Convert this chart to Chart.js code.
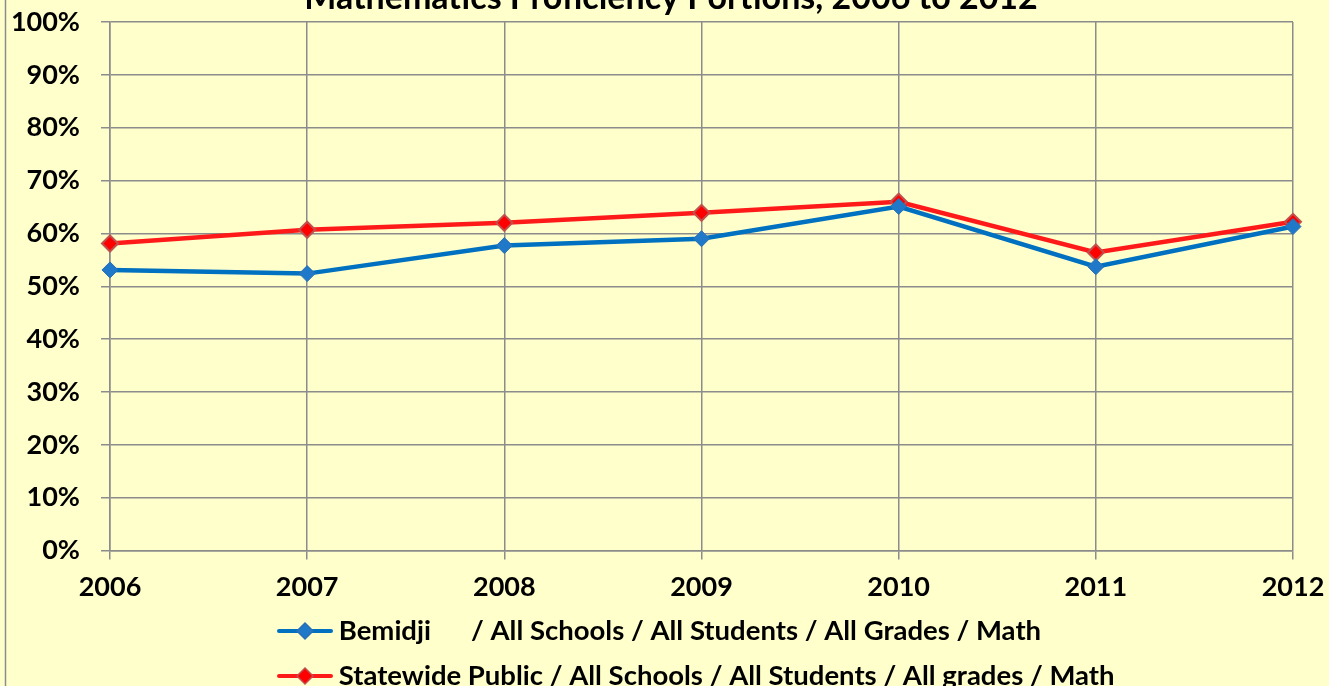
<!DOCTYPE html>
<html>
<head>
<meta charset="utf-8">
<script src="https://cdn.jsdelivr.net/npm/chart.js@4.4.1/dist/chart.umd.min.js"></script>
<style>
  html, body { margin: 0; padding: 0; background: #ffffcc; overflow: hidden; }
  #wrap { width: 1329px; height: 686px; }
</style>
</head>
<body>
<div id="wrap"><canvas id="myChart" width="1329" height="686"></canvas></div>
<script>
const years = ['2006', '2007', '2008', '2009', '2010', '2011', '2012'];
const bemidji = [53.1, 52.4, 57.7, 59.0, 65.1, 53.7, 61.3];
const statewide = [58.1, 60.7, 62.0, 63.9, 66.0, 56.4, 62.2];
const bemidjiLabel = 'Bemidji      / All Schools / All Students / All Grades / Math';
const statewideLabel = 'Statewide Public / All Schools / All Students / All grades / Math';
const titleText = 'Mathematics Proficiency Portions, 2006 to 2012';

const FONT = 'Lato, "Open Sans", sans-serif';
const LEG_FONT = 27.5;
const LEG_PAD = 17.5;

// little line+diamond pictures for the legend
function legendIcon(lineColor, fill, border) {
  const c = document.createElement('canvas');
  c.width = 56; c.height = 20;
  const g = c.getContext('2d');
  g.strokeStyle = lineColor;
  g.lineWidth = 4;
  g.lineCap = 'round';
  g.beginPath(); g.moveTo(2, 10); g.lineTo(54, 10); g.stroke();
  g.fillStyle = fill;
  g.strokeStyle = border;
  g.lineWidth = 1.5;
  g.beginPath();
  g.moveTo(28, 2); g.lineTo(36, 10); g.lineTo(28, 18); g.lineTo(20, 10); g.closePath();
  g.fill(); g.stroke();
  return c;
}
const blueIcon = legendIcon('#0070c0', '#1f78c8', '#2a6fb5');
const redIcon = legendIcon('#ff1a1a', '#ff0000', '#c0504d');

const bgPlugin = {
  id: 'bg',
  beforeDraw(chart) {
    const ctx = chart.ctx;
    ctx.save();
    ctx.fillStyle = '#ffffcc';
    ctx.fillRect(0, 0, chart.width, chart.height);
    ctx.strokeStyle = '#8c8c8c';
    ctx.lineWidth = 1.5;
    ctx.beginPath(); ctx.moveTo(5.5, 0); ctx.lineTo(5.5, chart.height); ctx.stroke();
    ctx.restore();
  },
  afterLayout(chart) {
    // both legend rows start at the same left edge, under the plot
    const lg = chart.legend;
    lg.left = 285 - LEG_PAD;
    lg.top = 631 - LEG_PAD - LEG_FONT / 2;
  },
  afterDraw(chart) {
    const ctx = chart.ctx;
    ctx.save();
    ctx.fillStyle = '#000';
    ctx.font = 'bold 34px ' + FONT;
    ctx.textAlign = 'center';
    ctx.textBaseline = 'alphabetic';
    ctx.fillText(titleText, 671, 9);
    ctx.restore();
  }
};

const ctx = document.getElementById('myChart');
new Chart(ctx, {
  type: 'line',
  data: {
    labels: years,
    datasets: [{
      label: bemidjiLabel,
      data: bemidji,
      borderColor: '#0070c0',
      borderWidth: 4.5,
      pointStyle: 'rectRot',
      pointRadius: 8,
      pointBackgroundColor: '#1f78c8',
      pointBorderColor: '#2a6fb5',
      pointBorderWidth: 1,
      tension: 0
    }, {
      label: statewideLabel,
      data: statewide,
      borderColor: '#ff1a1a',
      borderWidth: 4.5,
      pointStyle: 'rectRot',
      pointRadius: 8,
      pointBackgroundColor: '#ff0000',
      pointBorderColor: '#c0504d',
      pointBorderWidth: 2,
      tension: 0
    }]
  },
  options: {
    responsive: false,
    animation: false,
    layout: { padding: { top: 22, right: 36, left: 0, bottom: -28 } },
    scales: {
      x: {
        offset: false,
        grid: { color: '#8c8c8c', lineWidth: 1.5, tickLength: 9, tickColor: '#8c8c8c' },
        border: { color: '#8c8c8c', width: 1.5 },
        ticks: { color: '#000', font: { family: FONT, size: 27, weight: 'bold' }, padding: 11, maxRotation: 0 },
        afterFit(s) { s.paddingLeft = 0; s.paddingRight = 0; }
      },
      y: {
        min: 0,
        max: 100,
        grid: { color: '#8c8c8c', lineWidth: 1.5, tickLength: 9, tickColor: '#8c8c8c' },
        border: { color: '#8c8c8c', width: 1.5 },
        ticks: {
          stepSize: 10,
          color: '#000',
          padding: 21,
          font: { family: FONT, size: 27, weight: 'bold' },
          callback: (v) => v + '%'
        },
        afterFit(s) { s.width = 110; s.paddingTop = 0; s.paddingBottom = 0; }
      }
    },
    plugins: {
      tooltip: { enabled: false },
      legend: {
        position: 'bottom',
        align: 'start',
        labels: {
          color: '#000',
          font: { family: FONT, size: LEG_FONT, weight: 'bold' },
          usePointStyle: true,
          pointStyleWidth: 40,
          padding: LEG_PAD,
          generateLabels(chart) {
            return chart.data.datasets.map((d, i) => ({
              text: d.label,
              pointStyle: i === 0 ? blueIcon : redIcon,
              fillStyle: d.borderColor,
              strokeStyle: d.borderColor,
              lineWidth: 0,
              fontColor: '#000',
              hidden: false,
              datasetIndex: i
            }));
          }
        }
      }
    }
  },
  plugins: [bgPlugin]
});
</script>
</body>
</html>
